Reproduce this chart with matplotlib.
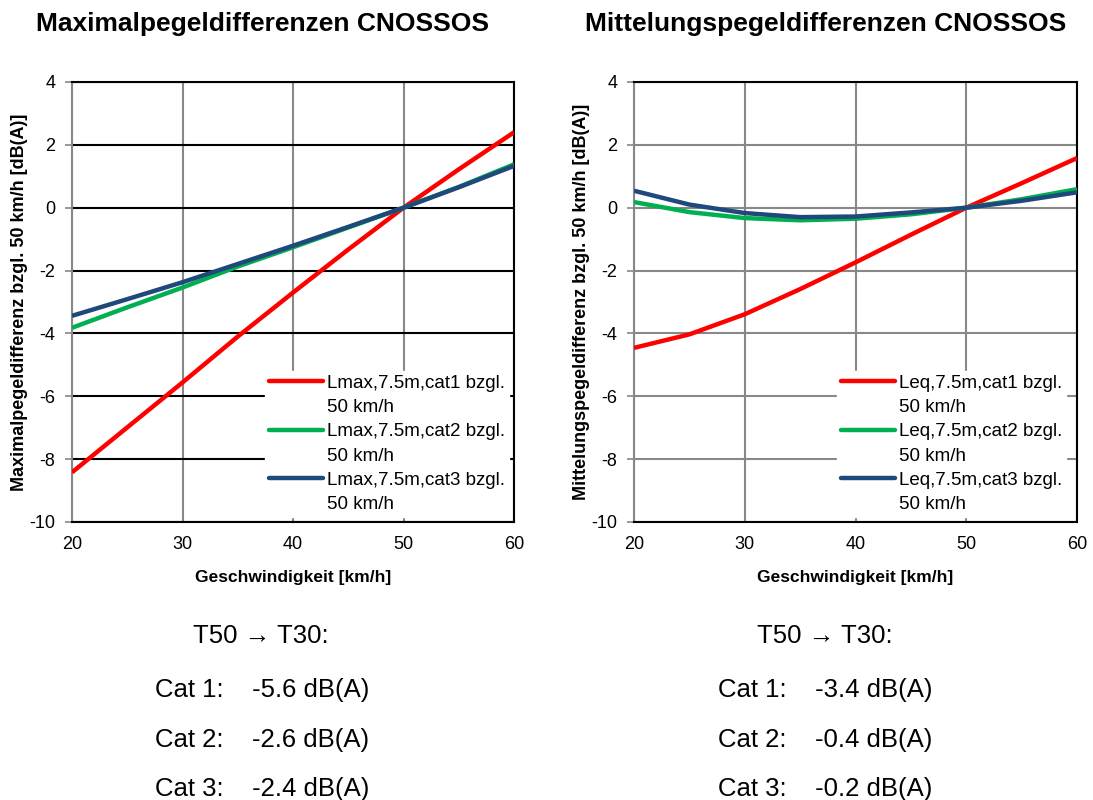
import numpy as np
import matplotlib
matplotlib.use("Agg")
import matplotlib.pyplot as plt
from matplotlib.lines import Line2D

plt.rcParams['font.family'] = ['Liberation Sans', 'DejaVu Sans']
plt.rcParams['axes.unicode_minus'] = False

# speeds [km/h]
speed = [20, 25, 30, 35, 40, 45, 50, 55, 60]

# Lmax differences relative to 50 km/h
lmax_cat1 = [-8.42, -6.99, -5.56, -4.10, -2.70, -1.33, 0.0, 1.22, 2.40]
lmax_cat2 = [-3.82, -3.17, -2.54, -1.87, -1.26, -0.63, 0.0, 0.66, 1.38]
lmax_cat3 = [-3.44, -2.91, -2.37, -1.79, -1.21, -0.61, 0.0, 0.65, 1.33]

# Leq differences relative to 50 km/h
leq_cat1 = [-4.46, -4.03, -3.39, -2.59, -1.74, -0.86, 0.0, 0.78, 1.58]
leq_cat2 = [0.18, -0.14, -0.33, -0.40, -0.35, -0.21, 0.0, 0.27, 0.59]
leq_cat3 = [0.54, 0.10, -0.17, -0.30, -0.28, -0.15, 0.0, 0.22, 0.49]

colors = ['#FF0000', '#00B050', '#1F497D']
cats = ['cat1', 'cat2', 'cat3']

titles = ['Maximalpegeldifferenzen CNOSSOS', 'Mittelungspegeldifferenzen CNOSSOS']
ylabels = ['Maximalpegeldifferenz bzgl. 50 km/h [dB(A)]',
           'Mittelungspegeldifferenz bzgl. 50 km/h [dB(A)]']
prefixes = ['Lmax', 'Leq']

summary_head = 'T50 \u2192 T30:'
summary_left = ['Cat 1:    -5.6 dB(A)', 'Cat 2:    -2.6 dB(A)', 'Cat 3:    -2.4 dB(A)']
summary_right = ['Cat 1:    -3.4 dB(A)', 'Cat 2:    -0.4 dB(A)', 'Cat 3:    -0.2 dB(A)']

fig = plt.figure(figsize=(10.93, 8), dpi=100)
W, H = 1093, 800

def px_axes(x0, y0, x1, y1):
    return fig.add_axes([x0 / W, 1 - y1 / H, (x1 - x0) / W, (y1 - y0) / H])

ax1 = px_axes(72, 82, 514, 522)
ax2 = px_axes(634, 82, 1077, 522)

series = [[lmax_cat1, lmax_cat2, lmax_cat3], [leq_cat1, leq_cat2, leq_cat3]]
hgrid = ['black', '#888888']
legend_right = [509, 1066]

for i, ax in enumerate([ax1, ax2]):
    handles, labels = [], []
    for vals, col, cat in zip(series[i], colors, cats):
        ax.plot(speed, vals, color=col, lw=3.2, solid_capstyle='butt',
                solid_joinstyle='round', zorder=3)
        # Excel-style legend: marker next to first line of a two-line label
        handles += [Line2D([], [], color=col, lw=3.2, solid_capstyle='round'),
                    Line2D([], [], lw=0)]
        labels += [f'{prefixes[i]},7.5m,{cat} bzgl.', '50 km/h']
    ax.set_xlim(20, 60)
    ax.set_ylim(-10, 4)
    ax.set_xticks([20, 30, 40, 50, 60])
    ax.set_yticks(range(-10, 5, 2))
    ax.xaxis.grid(True, color='#888888', lw=1.5)
    ax.yaxis.grid(True, color=hgrid[i], lw=1.5)
    ax.set_axisbelow(True)
    for s in ax.spines.values():
        s.set_color('black')
        s.set_linewidth(1.5)
    ax.spines['left'].set_color('#888888')
    ax.tick_params(axis='y', length=5, width=1.2, color='#888888',
                   direction='out', labelsize=13, pad=7)
    ax.tick_params(axis='x', length=0, labelsize=13, pad=10)
    ax.set_xlabel('Geschwindigkeit [km/h]', fontsize=12.5, fontweight='bold', labelpad=12)
    ax.set_ylabel(ylabels[i], fontsize=13, fontweight='bold', labelpad=1)
    leg = ax.legend(handles, labels, loc='lower right',
                    bbox_to_anchor=(legend_right[i] / W, 1 - 517 / H),
                    bbox_transform=fig.transFigure,
                    fontsize=13.5, frameon=True, handlelength=2.9,
                    handletextpad=0.2, labelspacing=0.38, borderaxespad=0,
                    borderpad=0.2, fancybox=False)
    leg.get_frame().set_edgecolor('white')
    leg.get_frame().set_facecolor('white')
    leg.get_frame().set_alpha(1)

fig.text(263 / W, 1 - 24 / H, titles[0], ha='center', va='center',
         fontsize=19, fontweight='bold')
fig.text(826 / W, 1 - 24 / H, titles[1], ha='center', va='center',
         fontsize=19, fontweight='bold')

fig.text(193 / W, 1 - 636 / H, summary_head, ha='left', va='center', fontsize=18.5)
fig.text(757 / W, 1 - 636 / H, summary_head, ha='left', va='center', fontsize=18.5)
for k, (tl, tr) in enumerate(zip(summary_left, summary_right)):
    y = 1 - (690 + k * 49.5) / H
    fig.text(155 / W, y, tl, ha='left', va='center', fontsize=18.5)
    fig.text(718 / W, y, tr, ha='left', va='center', fontsize=18.5)

fig.savefig('out.png', dpi=100)
